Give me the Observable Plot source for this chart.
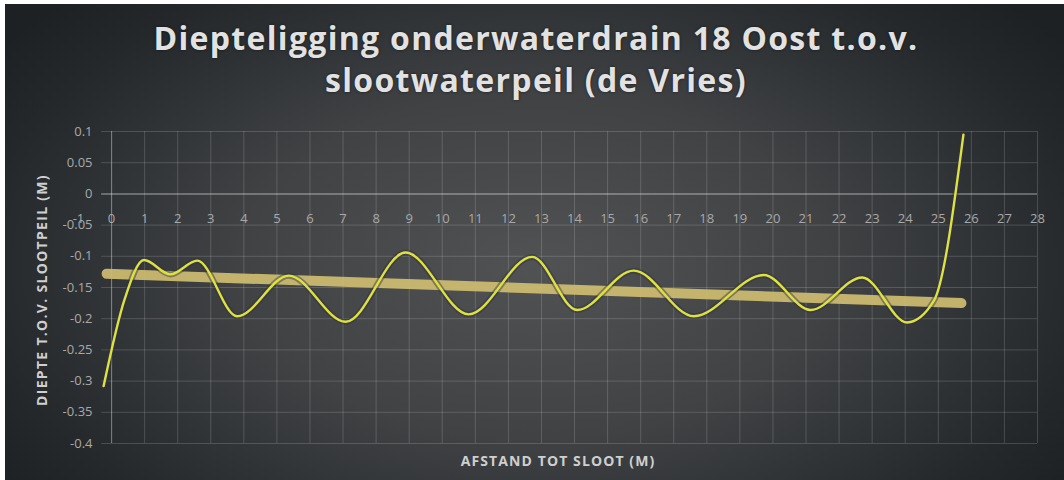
<!DOCTYPE html>
<html>
<head>
<meta charset="utf-8">
<script src="https://cdn.jsdelivr.net/npm/d3@7"></script>
<script src="https://cdn.jsdelivr.net/npm/@observablehq/plot@0.6"></script>
<style>
  html, body { margin: 0; padding: 0; background: #ffffff; }
  #wrap { position: relative; width: 1064px; height: 480px; background: #ffffff; overflow: hidden; }
  #bg { position: absolute; left: 5px; top: 4px; right: 0; bottom: 0;
        background: radial-gradient(ellipse 62% 80% at 50% 55%, #505254 0%, #404244 45%, #24282b 85%, #1d2124 100%); }
  #chart { position: absolute; left: 0; top: 0; }
  .title { position: absolute; left: 0; width: 1072px; text-align: center; color: #e2e2e2;
           font-family: "Open Sans", Lato, sans-serif; font-weight: 700; font-size: 32px; letter-spacing: 1.3px;
           line-height: 40px; text-shadow: 0 0 3px rgba(0,0,0,0.6); white-space: nowrap; }
  .axtitle { position: absolute; color: #cfcfcf; font-family: "Open Sans", Lato, sans-serif; font-weight: 700;
             font-size: 14px; white-space: nowrap; }
</style>
</head>
<body>
<div id="wrap">
  <div id="bg"></div>
  <div class="title" style="top:18px">Diepteligging onderwaterdrain 18 Oost t.o.v.</div>
  <div class="title" style="top:60px">slootwaterpeil (de Vries)</div>
  <div id="chart"></div>
  <div class="axtitle" id="ytitle" style="left:41px; top:290px; letter-spacing:1.3px; transform: translate(-50%,-50%) rotate(-90deg);">DIEPTE T.O.V. SLOOTPEIL (M)</div>
  <div class="axtitle" id="xtitle" style="left:558px; top:460px; letter-spacing:1.1px; transform: translate(-50%,-50%);">AFSTAND TOT SLOOT (M)</div>
</div>
<script>
// Measured profile: distance to ditch (m) and depth relative to ditch water level (m)
const distance = [-0.24, 0.4, 0.98, 1.78, 2.59, 3.80, 5.36, 7.08, 8.89, 10.80, 12.72, 14.08, 15.79, 17.61, 19.72, 21.14, 22.70, 24.06, 24.86, 25.76];
const depth    = [-0.308, -0.168, -0.106, -0.129, -0.107, -0.196, -0.131, -0.205, -0.094, -0.193, -0.101, -0.186, -0.123, -0.196, -0.130, -0.186, -0.134, -0.206, -0.172, 0.095];

// Linear trend line end points
const trendDistance = [-0.15, 25.7];
const trendDepth    = [-0.128, -0.175];

// Axis ticks
const xTicks = d3.range(-1, 29);
const xGrid = d3.range(0, 29);
const yTicks = [0.1, 0.05, 0, -0.05, -0.1, -0.15, -0.2, -0.25, -0.3, -0.35, -0.4];
const yTickLabels = ["0.1", "0.05", "0", "-0.05", "-0.1", "-0.15", "-0.2", "-0.25", "-0.3", "-0.35", "-0.4"];

const profile = distance.map((d, i) => ({x: d, y: depth[i]}));
const trend = trendDistance.map((d, i) => ({x: d, y: trendDepth[i]}));
const yLab = yTicks.map((v, i) => ({v, label: yTickLabels[i]}));

const plot = Plot.plot({
  width: 1064,
  height: 480,
  marginLeft: 78,
  marginRight: 27,
  marginTop: 131,
  marginBottom: 37,
  style: {background: "transparent", fontFamily: "'Open Sans', Lato, sans-serif"},
  x: {domain: [-1, 28], axis: null},
  y: {domain: [-0.4, 0.1], axis: null},
  marks: [
    Plot.ruleY(yTicks.filter(v => v !== 0), {y: d => d, x1: -0.3, x2: 28, stroke: "#ffffff", strokeOpacity: 0.16, strokeWidth: 1}),
    Plot.ruleX(xGrid, {x: d => d, y1: -0.4, y2: 0.1, stroke: "#ffffff", strokeOpacity: 0.16, strokeWidth: 1}),
    Plot.ruleY([0], {y: d => d, x1: -0.3, x2: 28, stroke: "#ffffff", strokeOpacity: 0.38, strokeWidth: 1.5}),
    Plot.ruleX([0], {x: d => d, y1: -0.4, y2: 0.1, stroke: "#ffffff", strokeOpacity: 0.25, strokeWidth: 1.2}),
    Plot.text(yLab, {x: () => -1, y: "v", text: "label", textAnchor: "end", dx: 14, fill: "#a9a9a9", fontSize: 13}),
    Plot.text(xTicks, {x: d => d, y: () => 0, text: d => String(d), dy: 25, fill: "#a9a9a9", fontSize: 13}),
    Plot.line(trend, {x: "x", y: "y", stroke: "#cfbd70", strokeOpacity: 0.92, strokeWidth: 10, strokeLinecap: "round"}),
    Plot.line(profile, {x: "x", y: "y", curve: "monotone-x", stroke: "#30304a", strokeOpacity: 0.45, strokeWidth: 6}),
    Plot.line(profile, {x: "x", y: "y", curve: "monotone-x", stroke: "#dde23c", strokeWidth: 2.4})
  ]
});
document.getElementById("chart").appendChild(plot);
</script>
</body>
</html>
